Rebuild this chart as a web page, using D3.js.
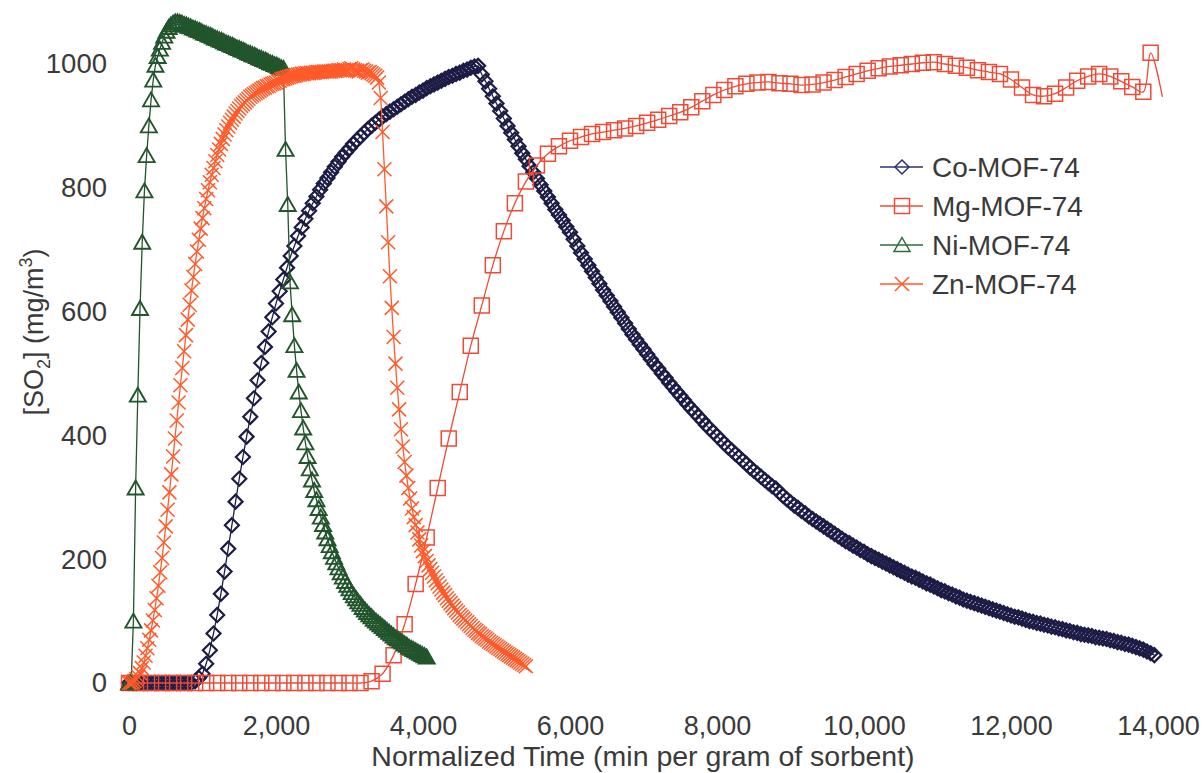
<!DOCTYPE html>
<html><head><meta charset="utf-8">
<script src="https://cdn.jsdelivr.net/npm/d3@7"></script>
<style>
body{margin:0;background:#fff}
svg{display:block}
text{font-family:"Liberation Sans",Arial,sans-serif;fill:#3a3a3a}
</style>
</head><body>
<svg id="chart" width="1203" height="773"></svg>
<script>
// ---------- data ----------
const xTicks = [0, 2000, 4000, 6000, 8000, 10000, 12000, 14000];
const yTicks = [0, 200, 400, 600, 800, 1000];
const seriesNames = ["Co-MOF-74", "Mg-MOF-74", "Ni-MOF-74", "Zn-MOF-74"];
const xTitle = "Normalized Time (min per gram of sorbent)";

// Co-MOF-74: sampled every 50 min from t = 0
const coStart = 0, coStep = 50;
const coValues = [
  0,0,0,0,0,0,0,0,0,0,0,0,0,0,0,0,0,0,3,8,
  15,31,53,80,110,144,180,217,255,293,330,365,398,430,460,489,517,543,568,591,
  613,633,652,671,690,706,722,736,750,763,775,786,797,807,816,825,834,842,850,857,
  864,871,877,883,889,895,900,905,910,915,919,923,927,931,935,939,943,947,950,954,
  957,961,964,967,970,973,976,979,981,984,986,989,991,994,996,997,983,972,960,948,
  936,924,912,900,889,878,867,856,846,835,825,815,805,795,785,775,765,756,747,737,
  728,717,706,695,685,675,665,655,645,635,626,617,608,599,590,581,572,563,555,547,
  539,531,523,515,508,500,493,485,478,471,464,457,450,443,437,430,424,417,411,405,
  399,393,387,381,376,370,365,359,354,348,343,338,333,328,323,318,314,308,302,297,
  292,287,283,278,274,269,265,261,257,253,249,245,241,237,233,229,226,222,219,215,
  212,208,205,202,199,196,193,190,187,184,181,178,175,172,170,167,164,161,159,156,
  153,150,148,145,143,140,138,135,133,131,129,127,125,123,121,119,117,115,113,111,
  109,107,106,104,102,100,99,97,96,94,93,91,90,88,87,85,84,82,81,79,
  78,77,76,74,73,72,71,69,68,66,65,63,62,60,58,56,54,51,48,45
];

// Mg-MOF-74: sampled every 150 min from t = 0
const mgStart = 0, mgStep = 150;
const mgValues = [
  0,0,0,0,0,0,0,0,0,0,0,0,0,0,0,0,0,0,0,0,0,0,
  3,15,45,95,160,235,315,395,470,545,610,675,730,775,810,836,855,867,
  876,882,887,890,893,896,900,905,910,916,922,930,940,950,958,964,968,970,
  971,969,968,966,967,970,974,979,984,989,993,996,998,1000,1002,1003,
  1000,997,994,990,987,984,975,962,950,948,952,962,973,980,984,980,972,963,955
];
const mgEndTimes = [13900, 14060];   // last spike point and unmarked line tail
const mgEndValues = [1018, 947];

// Ni-MOF-74: sampled every 30 min from t = 0
const niStart = 0, niStep = 30;
const niValues = [
  0,3,100,315,465,605,712,795,852,900,
  942,974,998,1012,1024,1035,1045,1053,1059,1063,
  1066,1068,1068,1067,1066,1064,1063,1061,1060,1058,
  1057,1055,1054,1052,1050,1049,1047,1046,1044,1042,
  1041,1039,1038,1036,1034,1033,1031,1030,1028,1026,
  1025,1023,1022,1020,1018,1017,1015,1014,1012,1010,
  1009,1007,1006,1004,1002,1001,999,998,996,994,
  993,862,773,648,595,545,505,470,440,412,
  388,366,346,328,311,296,282,268,256,244,
  233,222,212,203,194,186,178,171,164,158,
  152,146,141,136,131,127,122,118,114,110,
  107,103,100,97,94,91,88,85,82,79,
  76,73,71,68,66,63,61,58,56,54,
  52,50,48,46,44,42
];

// Zn-MOF-74: sampled every 25 min from t = 0
const znStart = 0, znStep = 25;
const znValues = [
  0,0,1,3,6,10,16,24,
  33,44,56,70,85,101,118,137,
  157,179,202,227,253,280,308,337,
  366,395,424,453,481,509,536,562,
  587,611,634,656,677,697,716,734,
  751,767,782,796,809,821,832,843,
  853,862,871,879,886,893,899,905,
  910,915,920,924,928,932,935,938,
  941,944,947,949,951,953,955,957,
  959,961,962,964,965,967,968,969,
  970,972,973,975,976,977,978,979,
  980,981,981,982,983,983,984,984,
  985,985,985,986,986,986,987,987,
  987,987,988,988,988,988,988,989,
  989,989,990,990,990,991,990,990,
  992,993,991,990,989,988,990,991,
  989,988,986,987,985,983,981,978,
  970,945,890,830,770,712,657,606,
  559,516,477,442,410,382,357,335,
  315,298,282,268,255,243,232,222,
  213,205,197,190,184,178,172,166,
  161,156,151,146,142,137,133,129,
  125,121,117,114,110,107,104,101,
  98,95,92,89,86,84,81,79,
  76,74,72,70,67,65,63,61,
  59,57,55,53,51,49,47,45,
  43,41,39,37,35,33,31,29,
  27
];

// ---------- build ----------
const toPts = (start, step, vals) => vals.map((v, i) => ({t: start + i * step, v}));
const coPts = toPts(coStart, coStep, coValues);
const mgPts = toPts(mgStart, mgStep, mgValues);
const mgMarkPts = mgPts.concat([{t: mgEndTimes[0], v: mgEndValues[0]}]);
const mgLinePts = mgMarkPts.concat([{t: mgEndTimes[1], v: mgEndValues[1]}]);
const niPts = toPts(niStart, niStep, niValues);
const znPts = toPts(znStart, znStep, znValues);

const svg = d3.select("#chart");
const x = d3.scaleLinear().domain([0, 14000]).range([129, 1158]);
const y = d3.scaleLinear().domain([0, 1000]).range([683, 64]);

const markerPath = {
  diamond: "M0,-7L7,0L0,7L-7,0Z",
  square: "M-7.5,-7.5H7.5V7.5H-7.5Z",
  triangle: "M0,-7.5L8,6.5L-8,6.5Z",
  cross: "M-7,-7L7,7M-7,7L7,-7"
};

const series = [
  {name: seriesNames[0], line: coPts, marks: coPts, color: "#1c1c46", legendColor: "#2e3270", marker: "diamond", sw: 2.2, curve: d3.curveLinear},
  {name: seriesNames[1], line: mgLinePts, marks: mgMarkPts, color: "#ee4b36", legendColor: "#ee4b36", marker: "square", sw: 1.5, curve: d3.curveCatmullRom},
  {name: seriesNames[2], line: niPts, marks: niPts, color: "#22552c", legendColor: "#2c6b3b", marker: "triangle", sw: 1.9, curve: d3.curveLinear},
  {name: seriesNames[3], line: znPts, marks: znPts, color: "#ff5a2a", legendColor: "#ff5a2a", marker: "cross", sw: 1.5, curve: d3.curveLinear}
];

// axes (labels only)
const fontFam = '"Liberation Sans",Arial,sans-serif';
const xAxis = d3.axisBottom(x).tickValues(xTicks).tickFormat(d3.format(",")).tickSize(0).tickPadding(33);
const gx = svg.append("g").attr("transform", "translate(0,683)").call(xAxis);
gx.select(".domain").remove();
gx.selectAll("text").style("font-size", "27px").style("font-family", fontFam).attr("fill", "#3a3a3a");

const yAxis = d3.axisLeft(y).tickValues(yTicks).tickFormat(d3.format("d")).tickSize(0).tickPadding(22);
const gy = svg.append("g").attr("transform", "translate(129,0)").call(yAxis);
gy.select(".domain").remove();
gy.selectAll("text").style("font-size", "27.5px").style("font-family", fontFam).attr("fill", "#3a3a3a");

// titles
svg.append("text").attr("x", 643).attr("y", 766).attr("text-anchor", "middle")
  .style("font-size", "28.5px").text(xTitle);

const yt = svg.append("text").attr("transform", "translate(43,332) rotate(-90)")
  .attr("text-anchor", "middle").style("font-size", "27px");
yt.append("tspan").text("[SO");
yt.append("tspan").attr("dy", 7).style("font-size", "18px").text("2");
yt.append("tspan").attr("dy", -7).text("] (mg/m");
yt.append("tspan").attr("dy", -11).style("font-size", "18px").text("3");
yt.append("tspan").attr("dy", 11).text(")");

// series
series.forEach(s => {
  const g = svg.append("g");
  g.append("path").datum(s.line)
    .attr("fill", "none").attr("stroke", s.color).attr("stroke-width", 1.3)
    .attr("d", d3.line().x(d => x(d.t)).y(d => y(d.v)).curve(s.curve));
  g.selectAll("path.m").data(s.marks).enter().append("path").attr("class", "m")
    .attr("transform", d => `translate(${x(d.t)},${y(d.v)})`)
    .attr("d", markerPath[s.marker])
    .attr("fill", "none").attr("stroke", s.color).attr("stroke-width", s.sw);
});

// legend
const lg = svg.append("g");
series.forEach((s, i) => {
  const cy = 167 + i * 39;
  lg.append("line").attr("x1", 880).attr("x2", 923).attr("y1", cy).attr("y2", cy)
    .attr("stroke", s.legendColor).attr("stroke-width", 1.5);
  lg.append("path").attr("transform", `translate(902,${cy})`).attr("d", markerPath[s.marker])
    .attr("fill", "none").attr("stroke", s.legendColor).attr("stroke-width", 1.5);
  lg.append("text").attr("x", 932).attr("y", cy).attr("dy", "0.35em")
    .style("font-size", "28px").text(s.name);
});
</script>
</body></html>
